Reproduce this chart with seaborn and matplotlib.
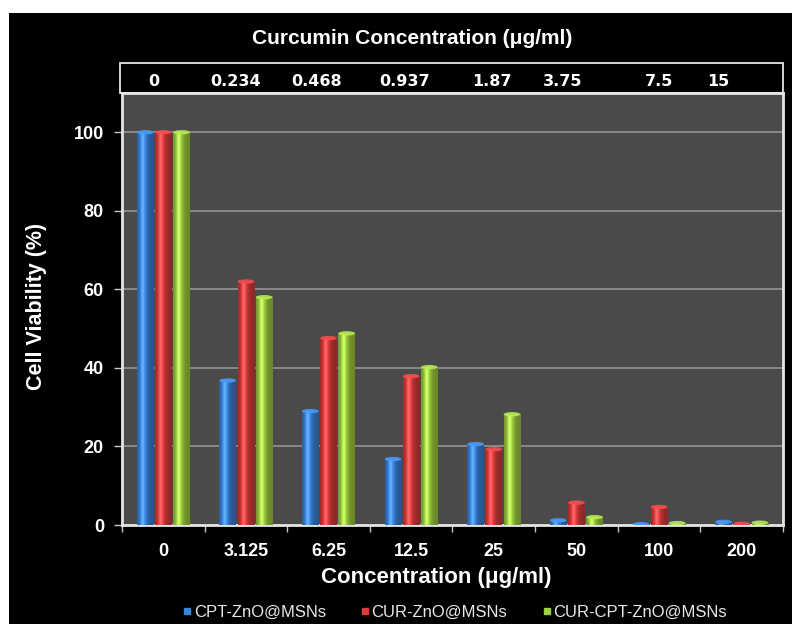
import numpy as np
import pandas as pd
import matplotlib
matplotlib.use("Agg")
import matplotlib.pyplot as plt
import seaborn as sns
from matplotlib.patches import Rectangle, Ellipse
from matplotlib.lines import Line2D
from matplotlib.colors import to_rgb

# ---- data ----
concentrations = ["0", "3.125", "6.25", "12.5", "25", "50", "100", "200"]
curcumin_conc = ["0", "0.234", "0.468", "0.937", "1.87", "3.75", "7.5", "15"]
series = ["CPT-ZnO@MSNs", "CUR-ZnO@MSNs", "CUR-CPT-ZnO@MSNs"]
cpt_zno = [100, 36.8, 29.0, 16.8, 20.6, 1.2, 0.2, 0.8]
cur_zno = [100, 62.0, 47.6, 37.9, 19.3, 5.7, 4.6, 0.3]
cur_cpt_zno = [100, 58.0, 48.8, 40.2, 28.2, 2.0, 0.5, 0.6]
palette = ["#3a84dc", "#dc3c3c", "#a0d040"]

df = pd.DataFrame({
    "Concentration": concentrations * 3,
    "Formulation": [s for s in series for _ in concentrations],
    "Viability": cpt_zno + cur_zno + cur_cpt_zno,
})

sns.set_theme(style="dark")
plt.rcParams["font.family"] = ["Liberation Sans", "DejaVu Sans"]
plt.rcParams["font.weight"] = "bold"

fig = plt.figure(figsize=(7.92, 6.24), dpi=100)
fig.patch.set_facecolor("white")
fig.patches.append(Rectangle((9 / 792, 0), 1, 1 - 13 / 624, transform=fig.transFigure,
                             facecolor="black", edgecolor="none", zorder=-10))

ax = fig.add_axes([122 / 792, 1 - 525 / 624, (783 - 122) / 792, (525 - 93) / 624])
ax.set_facecolor("#4a4a4a")

sns.barplot(data=df, x="Concentration", y="Viability", hue="Formulation",
            order=concentrations, hue_order=series, palette=palette,
            width=0.66, gap=0.08, saturation=1, legend=False, ax=ax,
            edgecolor="none", linewidth=0, zorder=3)

# cylindrical shading on each bar
t = np.linspace(0, 1, 64)
shade = 0.66 + 0.42 * np.exp(-((t - 0.36) / 0.26) ** 2)
gloss = 0.15 * np.exp(-((t - 0.33) / 0.10) ** 2)
for patch in list(ax.patches):
    x0, w, h = patch.get_x(), patch.get_width(), patch.get_height()
    if h <= 0:
        continue
    base = np.array(to_rgb(patch.get_facecolor()))
    img = np.clip(base[None, :] * shade[:, None] + gloss[:, None], 0, 1)[None, :, :]
    im = ax.imshow(img, extent=[x0, x0 + w, 0, h], aspect="auto",
                   interpolation="bilinear", zorder=3.2)
    im.set_clip_path(patch)
    cap = Ellipse((x0 + w / 2, h), w, 1.1, facecolor=np.clip(base * 1.05 + 0.06, 0, 1),
                  edgecolor="none", zorder=3.4, alpha=0.9)
    ax.add_patch(cap)

ax.set_xlim(-0.5, len(concentrations) - 0.5)
ax.set_ylim(0, 110)

# grid and frame
ax.set_yticks([0, 20, 40, 60, 80, 100])
ax.grid(False)
for yv in [20, 40, 60, 80, 100]:
    ax.axhline(yv, color="#8e8e8e", lw=1.3, zorder=1)
for side in ["left", "right", "top", "bottom"]:
    ax.spines[side].set_visible(True)
    ax.spines[side].set_color("#e6e6e6")
    ax.spines[side].set_linewidth(2)

ax.tick_params(axis="y", colors="#c8c8c8", length=6, width=1, direction="out",
               pad=7, labelsize=13, labelcolor="white", left=True)
ax.set_xticks(range(len(concentrations)))
ax.set_xticklabels(concentrations)
ax.set_xticks(np.arange(len(concentrations) + 1) - 0.5, minor=True)
ax.tick_params(axis="x", which="major", length=0, pad=13, labelsize=13,
               labelcolor="white")
ax.tick_params(axis="x", which="minor", length=5, width=1, color="#c8c8c8",
               direction="out", bottom=True)
for lab in ax.get_xticklabels() + ax.get_yticklabels():
    lab.set_fontweight("bold")

ax.set_xlabel("Concentration (μg/ml)", fontsize=16, fontweight="bold", color="white")
ax.xaxis.set_label_coords((436 - 122) / 661, -(578 - 525) / 432)
ax.xaxis.label.set_va("center")
ax.set_ylabel("Cell Viability (%)", fontsize=15.5, fontweight="bold", color="white")
ax.yaxis.set_label_coords((36 - 122) / 661, (525 - 306) / 432)
ax.yaxis.label.set_va("center")

# top axis with curcumin concentrations inside a framed strip
top_shift = [-0.12, -0.13, -0.14, -0.075, -0.02, -0.17, 0.0, -0.28]
top = ax.secondary_xaxis("top")
top.set_xticks([i + s for i, s in enumerate(top_shift)])
top.set_xticklabels(curcumin_conc)
top.tick_params(length=0, pad=3, labelsize=11.5, labelcolor="white")
for lab in top.get_xticklabels():
    lab.set_fontweight("bold")
    lab.set_family("DejaVu Sans")
top.spines["top"].set_visible(False)
fig.patches.append(Rectangle((120 / 792, 1 - 93 / 624), (783 - 120) / 792, 30 / 624,
                             transform=fig.transFigure, facecolor="none",
                             edgecolor="#e6e6e6", lw=1.3, zorder=5))
fig.text(0.52, 1 - 38 / 624, "Curcumin Concentration (μg/ml)", ha="center", va="center",
         fontsize=15, fontweight="bold", color="white")

# legend
handles = [Line2D([], [], marker="s", ls="none", markersize=5, color=c) for c in palette]
leg = fig.legend(handles, series, loc="center", bbox_to_anchor=(454 / 792, 1 - 612 / 624),
                 ncol=3, frameon=False, handletextpad=0.05, handlelength=0.7,
                 columnspacing=2.0, prop={"size": 12, "weight": "normal"})
for txt in leg.get_texts():
    txt.set_color("#e8e8e8")

fig.savefig("out.png", dpi=100, facecolor=fig.get_facecolor())
